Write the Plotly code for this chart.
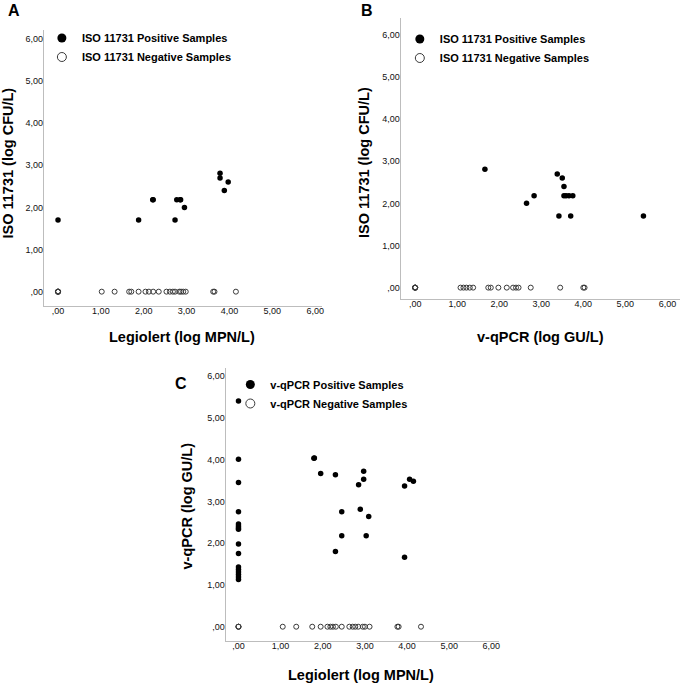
import plotly.graph_objects as go

# ---------------- data ----------------
TICK_VALUES = [0, 1, 2, 3, 4, 5, 6]
TICK_LABELS = [",00", "1,00", "2,00", "3,00", "4,00", "5,00", "6,00"]

# Panel A: Legiolert (x) vs ISO 11731 (y)
A_POS_LEGIOLERT = [0.00, 1.88, 2.21, 2.22, 2.73, 2.77, 2.85, 2.86, 2.95, 3.78, 3.78, 3.88, 3.97]
A_POS_ISO = [1.70, 1.70, 2.18, 2.18, 1.70, 2.18, 2.18, 2.18, 2.00, 2.81, 2.70, 2.40, 2.60]
A_NEG_LEGIOLERT = [0.00, 0.00, 0.00, 0.00, 0.00, 1.02, 1.32, 1.66, 1.71, 1.88, 2.04, 2.12, 2.22,
                   2.35, 2.53, 2.61, 2.68, 2.73, 2.83, 2.87, 2.92, 2.98, 3.62, 3.65, 4.15]
A_NEG_ISO = [0.00, 0.00, 0.00, 0.00, 0.00, 0.00, 0.00, 0.00, 0.00, 0.00, 0.00, 0.00, 0.00,
             0.00, 0.00, 0.00, 0.00, 0.00, 0.00, 0.00, 0.00, 0.00, 0.00, 0.00, 0.00]

# Panel B: v-qPCR (x) vs ISO 11731 (y)
B_POS_VQPCR = [1.66, 2.65, 2.83, 3.38, 3.42, 3.50, 3.54, 3.54, 3.59, 3.66, 3.70, 3.75, 5.43]
B_POS_ISO = [2.81, 2.00, 2.18, 2.70, 1.70, 2.60, 2.40, 2.18, 2.18, 2.18, 1.70, 2.18, 1.70]
B_NEG_VQPCR = [0.00, 0.00, 0.00, 0.00, 0.00, 1.08, 1.15, 1.22, 1.30, 1.38, 1.74, 1.80, 1.98,
               2.18, 2.33, 2.40, 2.46, 2.75, 3.45, 4.00, 4.03]
B_NEG_ISO = [0.00, 0.00, 0.00, 0.00, 0.00, 0.00, 0.00, 0.00, 0.00, 0.00, 0.00, 0.00, 0.00,
             0.00, 0.00, 0.00, 0.00, 0.00, 0.00, 0.00, 0.00]

# Panel C: Legiolert (x) vs v-qPCR (y)
C_POS_LEGIOLERT = [0.00, 0.00, 0.00, 0.00, 0.00, 0.00, 0.00, 0.00, 0.00, 0.00, 0.00, 0.00,
                   0.00, 0.00, 0.00, 0.00,
                   1.79, 1.80, 1.95, 2.30, 2.30, 2.45, 2.45, 2.85, 2.89, 2.97, 2.97, 3.03,
                   3.09, 3.94, 3.94, 4.06, 4.15]
C_POS_VQPCR = [5.40, 4.01, 3.45, 2.75, 2.46, 2.41, 2.37, 2.33, 1.98, 1.75, 1.43, 1.37,
               1.31, 1.25, 1.19, 1.13,
               4.03, 4.04, 3.67, 3.64, 1.80, 2.75, 2.18, 3.40, 2.81, 3.72, 3.53, 2.18,
               2.64, 3.37, 1.66, 3.53, 3.48]
C_NEG_LEGIOLERT = [0.00, 0.00, 0.00, 1.05, 1.37, 1.75, 1.95, 2.11, 2.18, 2.24, 2.31, 2.45,
                   2.63, 2.71, 2.77, 2.84, 2.95, 3.00, 3.11, 3.77, 3.80, 4.33]
C_NEG_VQPCR = [0.00, 0.00, 0.00, 0.00, 0.00, 0.00, 0.00, 0.00, 0.00, 0.00, 0.00, 0.00,
               0.00, 0.00, 0.00, 0.00, 0.00, 0.00, 0.00, 0.00, 0.00, 0.00]

LEGEND_A = ["ISO 11731 Positive Samples", "ISO 11731 Negative Samples"]
LEGEND_C = ["v-qPCR Positive Samples", "v-qPCR Negative Samples"]

# ---------------- figure ----------------
W, H = 685, 691
FONT = "Liberation Sans, Arial, Helvetica, sans-serif"

def px_x(p):
    return p / W

def px_y(p):
    return 1 - p / H

pos_marker = dict(color="black", size=5.5, symbol="circle", line=dict(width=0))
neg_marker = dict(color="#3a3a3a", size=5, symbol="circle-open", line=dict(width=1, color="#3a3a3a"))
leg_pos_marker = dict(color="black", size=9, symbol="circle", line=dict(width=0))
leg_neg_marker = dict(color="#3a3a3a", size=9, symbol="circle-open", line=dict(width=1, color="#3a3a3a"))

fig = go.Figure()

panels = [
    ("x", "y", A_POS_LEGIOLERT, A_POS_ISO, A_NEG_LEGIOLERT, A_NEG_ISO, LEGEND_A, "legend"),
    ("x2", "y2", B_POS_VQPCR, B_POS_ISO, B_NEG_VQPCR, B_NEG_ISO, LEGEND_A, "legend2"),
    ("x3", "y3", C_POS_LEGIOLERT, C_POS_VQPCR, C_NEG_LEGIOLERT, C_NEG_VQPCR, LEGEND_C, "legend3"),
]

for xa, ya, px_, py_, nx_, ny_, names, leg in panels:
    fig.add_trace(go.Scatter(x=nx_, y=ny_, xaxis=xa, yaxis=ya, mode="markers",
                             marker=neg_marker, showlegend=False, hoverinfo="x+y"))
    fig.add_trace(go.Scatter(x=px_, y=py_, xaxis=xa, yaxis=ya, mode="markers",
                             marker=pos_marker, showlegend=False, hoverinfo="x+y"))
    # legend entries
    fig.add_trace(go.Scatter(x=[None], y=[None], xaxis=xa, yaxis=ya, mode="markers",
                             marker=leg_pos_marker, name=names[0], legend=leg))
    fig.add_trace(go.Scatter(x=[None], y=[None], xaxis=xa, yaxis=ya, mode="markers",
                             marker=leg_neg_marker, name=names[1], legend=leg))

axis_common = dict(
    showline=True, linecolor="#bdbdbd", linewidth=1.3, showgrid=False, zeroline=False,
    ticks="", tickvals=TICK_VALUES, ticktext=TICK_LABELS,
    tickfont=dict(family=FONT, size=9, color="#111"), fixedrange=True,
)
x_common = dict(ticklabelstandoff=-4, **axis_common)
y_common = dict(ticklabelstandoff=-2, **axis_common)

fig.update_layout(
    width=W, height=H, margin=dict(l=0, r=0, t=0, b=0),
    paper_bgcolor="white", plot_bgcolor="white",
    font=dict(family=FONT, color="black"),
    # Panel A
    xaxis=dict(domain=[px_x(44), px_x(323)], range=[-0.33, 6.16], anchor="y", **x_common),
    yaxis=dict(domain=[px_y(306), px_y(30)], range=[-0.34, 6.21], anchor="x", **y_common),
    # Panel B
    xaxis2=dict(domain=[px_x(402), px_x(682)], range=[-0.34, 6.30], anchor="y2", **x_common),
    yaxis2=dict(domain=[px_y(299), px_y(18)], range=[-0.27, 6.40], anchor="x2", **y_common),
    # Panel C
    xaxis3=dict(domain=[px_x(226.5), px_x(500)], range=[-0.30, 6.17], anchor="y3", **x_common),
    yaxis3=dict(domain=[px_y(640.7), px_y(367.7)], range=[-0.335, 6.20], anchor="x3", **y_common),
)

leg_common = dict(bgcolor="rgba(0,0,0,0)", borderwidth=0, itemsizing="trace",
                  font=dict(family=FONT, size=11, color="black", weight="bold"),
                  xanchor="left", yanchor="middle", tracegroupgap=0)
fig.update_layout(
    legend=dict(x=px_x(62 - 20), y=px_y(47.5), **leg_common),
    legend2=dict(x=px_x(421 - 20), y=px_y(48.5), **leg_common),
    legend3=dict(x=px_x(251 - 20), y=px_y(394), **leg_common),
)

title_font = dict(family=FONT, size=14.5, color="black", weight="bold")
letter_font = dict(family=FONT, size=16, color="black", weight="bold")
annots = [
    # panel letters
    dict(text="A", x=px_x(14), y=px_y(10), font=letter_font),
    dict(text="B", x=px_x(368), y=px_y(10), font=letter_font),
    dict(text="C", x=px_x(182), y=px_y(383), font=letter_font),
    # axis titles
    dict(text="ISO 11731 (log CFU/L)", x=px_x(8.5), y=px_y(163), textangle=-90, font=title_font),
    dict(text="Legiolert (log MPN/L)", x=px_x(183), y=px_y(337), font=title_font),
    dict(text="ISO 11731 (log CFU/L)", x=px_x(365), y=px_y(162), textangle=-90, font=title_font),
    dict(text="v-qPCR (log GU/L)", x=px_x(542), y=px_y(337), font=title_font),
    dict(text="v-qPCR (log GU/L)", x=px_x(188), y=px_y(506), textangle=-90, font=title_font),
    dict(text="Legiolert (log MPN/L)", x=px_x(362), y=px_y(675), font=title_font),
]
for a in annots:
    fig.add_annotation(xref="paper", yref="paper", xanchor="center", yanchor="middle",
                       showarrow=False, **a)

fig.write_html("out.html", config={"displayModeBar": False},
               post_script="document.body.style.margin='0px';")
